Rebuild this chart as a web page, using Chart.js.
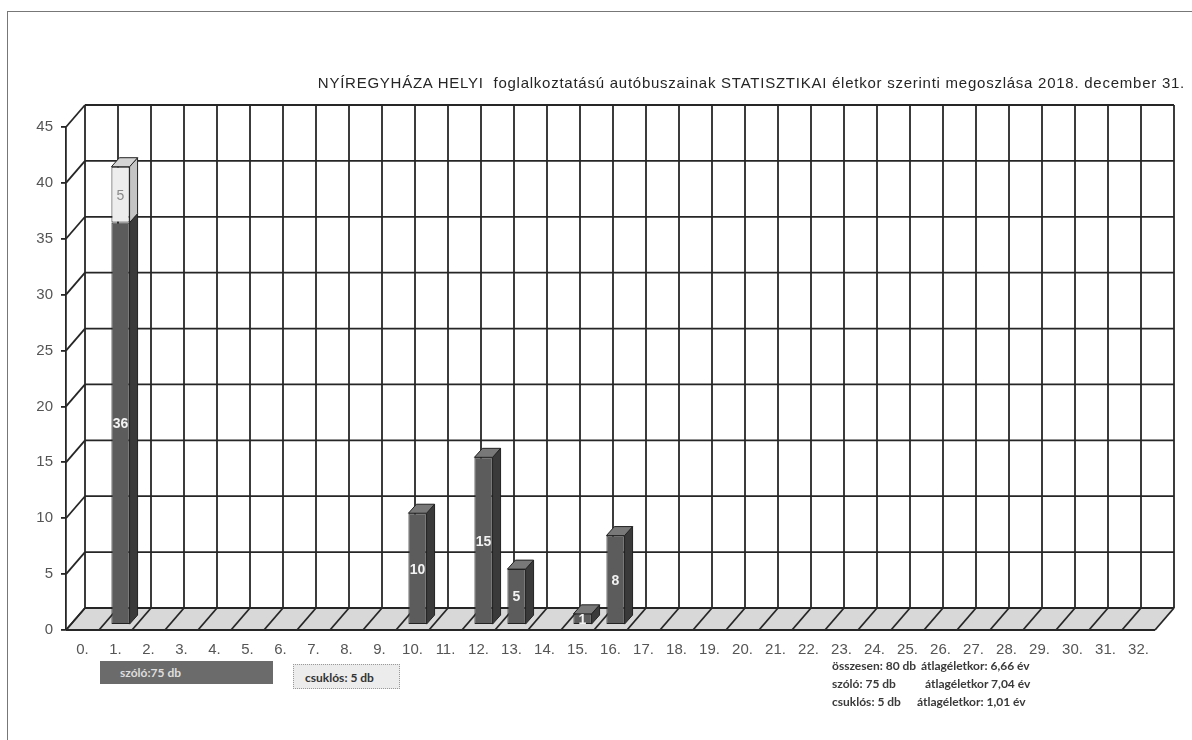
<!DOCTYPE html>
<html>
<head>
<meta charset="utf-8">
<script src="https://cdn.jsdelivr.net/npm/chart.js@4.4.1/dist/chart.umd.min.js"></script>
<style>
  body { margin: 0; background: #fff; width: 1192px; height: 740px; overflow: hidden; position: relative; }
  #frame { position: absolute; left: 7px; top: 11px; width: 1220px; height: 760px; border: 1px solid #777; }
  #chart { position: absolute; left: 0; top: 0; }
  #title { position: absolute; right: 7px; top: 74px; font: 15px 'Liberation Sans', Arial, sans-serif; letter-spacing: 0.75px; color: #262626; white-space: nowrap; }
  .legbox { position: absolute; font: bold 12px Lato, 'Open Sans', sans-serif; white-space: nowrap; box-sizing: border-box; }
  #leg0 { left: 100px; top: 661px; width: 173px; height: 23px; line-height: 23px; background: #6b6b6b; color: #dedede; padding-left: 20px; }
  #leg1 { left: 293px; top: 664px; width: 107px; height: 25px; line-height: 25px; background: #ececec; color: #333; border: 1px dotted #999; padding-left: 11px; }
  .stat { position: absolute; font: bold 12px Lato, 'Open Sans', sans-serif; color: #3a3a3a; white-space: nowrap; }
</style>
</head>
<body>
<div id="frame"></div>
<canvas id="chart" width="1192" height="740"></canvas>
<div id="title">NYÍREGYHÁZA HELYI&nbsp; foglalkoztatású autóbuszainak STATISZTIKAI életkor szerinti megoszlása 2018. december 31.</div>
<div id="leg0" class="legbox"></div>
<div id="leg1" class="legbox"></div>
<div class="stat" style="left:832px; top:658px">összesen: 80 db</div>
<div class="stat" style="left:921px; top:658px">átlagéletkor: 6,66 év</div>
<div class="stat" style="left:832px; top:676px">szóló: 75 db</div>
<div class="stat" style="left:925px; top:676px">átlagéletkor 7,04 év</div>
<div class="stat" style="left:832px; top:694px">csuklós: 5 db</div>
<div class="stat" style="left:917px; top:694px">átlagéletkor: 1,01 év</div>
<script>
// age categories (years)
const categories = ['0.', '1.', '2.', '3.', '4.', '5.', '6.', '7.', '8.', '9.', '10.',
    '11.', '12.', '13.', '14.', '15.', '16.', '17.', '18.', '19.', '20.', '21.',
    '22.', '23.', '24.', '25.', '26.', '27.', '28.', '29.', '30.', '31.', '32.'];

// number of buses per age
const soloValues = [0, 36, 0, 0, 0, 0, 0, 0, 0, 0, 10, 0, 15, 5, 0, 1, 8, 0,
    0, 0, 0, 0, 0, 0, 0, 0, 0, 0, 0, 0, 0, 0, 0];
const csuklosValues = [0, 5, 0, 0, 0, 0, 0, 0, 0, 0, 0, 0, 0, 0, 0, 0, 0, 0,
    0, 0, 0, 0, 0, 0, 0, 0, 0, 0, 0, 0, 0, 0, 0];
const seriesNames = ['szóló', 'csuklós'];

const yMax = 45;
const yStep = 5;

// 3D look
const gridColor = '#262626';
const WALL_DX = 19, WALL_DY = -22;   // back wall offset
const BAR_SX = 5, BAR_SY = -5;       // bars sit a bit behind the front plane
const BAR_DX = 8, BAR_DY = -9;       // bar depth
const faceColors = [
    { front: '#5c5c5c', side: '#3a3a3a', top: '#787878', label: '#f2f2f2', bold: true },
    { front: '#ededed', side: '#c4c4c4', top: '#d4d4d4', label: '#8a8a8a', bold: false }
];

const sum = arr => arr.reduce((s, v) => s + v, 0);
document.getElementById('leg0').textContent = seriesNames[0] + ':' + sum(soloValues) + ' db';
document.getElementById('leg1').textContent = seriesNames[1] + ': ' + sum(csuklosValues) + ' db';

function line(ctx, x1, y1, x2, y2) {
    ctx.beginPath();
    ctx.moveTo(x1, y1);
    ctx.lineTo(x2, y2);
    ctx.stroke();
}

const walls3d = {
    id: 'walls3d',
    beforeDatasetsDraw(chart) {
        const { ctx, chartArea: a, scales: { y } } = chart;
        const catW = (a.right - a.left) / categories.length;
        ctx.save();
        // floor
        ctx.fillStyle = '#d8d8d8';
        ctx.beginPath();
        ctx.moveTo(a.left, a.bottom);
        ctx.lineTo(a.right, a.bottom);
        ctx.lineTo(a.right + WALL_DX, a.bottom + WALL_DY);
        ctx.lineTo(a.left + WALL_DX, a.bottom + WALL_DY);
        ctx.closePath();
        ctx.fill();
        ctx.strokeStyle = gridColor;
        ctx.lineWidth = 1.8;
        for (let i = 0; i <= categories.length; i++) {
            const xb = a.left + i * catW;
            line(ctx, xb, a.bottom, xb + WALL_DX, a.bottom + WALL_DY);
            line(ctx, xb + WALL_DX, y.getPixelForValue(yMax) + WALL_DY, xb + WALL_DX, a.bottom + WALL_DY);
        }
        for (let v = 0; v <= yMax; v += yStep) {
            const yy = y.getPixelForValue(v);
            line(ctx, a.left, yy, a.left + WALL_DX, yy + WALL_DY);
            line(ctx, a.left + WALL_DX, yy + WALL_DY, a.right + WALL_DX, yy + WALL_DY);
        }
        line(ctx, a.left, a.bottom, a.right, a.bottom);
        ctx.restore();
        ctx.save();
        ctx.translate(BAR_SX, BAR_SY);
    },
    afterDatasetsDraw(chart) {
        const { ctx } = chart;
        const metas = chart.data.datasets.map((d, i) => chart.getDatasetMeta(i));
        categories.forEach((c, idx) => {
            let topDs = -1;
            chart.data.datasets.forEach((d, di) => { if (d.data[idx] > 0) topDs = di; });
            chart.data.datasets.forEach((d, di) => {
                const v = d.data[idx];
                if (!v) return;
                const el = metas[di].data[idx];
                const col = faceColors[di];
                const l = el.x - el.width / 2, r = el.x + el.width / 2;
                ctx.strokeStyle = '#222';
                ctx.lineWidth = 1;
                // side face
                ctx.fillStyle = col.side;
                ctx.beginPath();
                ctx.moveTo(r, el.y);
                ctx.lineTo(r + BAR_DX, el.y + BAR_DY);
                ctx.lineTo(r + BAR_DX, el.base + BAR_DY);
                ctx.lineTo(r, el.base);
                ctx.closePath();
                ctx.fill();
                ctx.stroke();
                if (di === topDs) {
                    ctx.fillStyle = col.top;
                    ctx.beginPath();
                    ctx.moveTo(l, el.y);
                    ctx.lineTo(r, el.y);
                    ctx.lineTo(r + BAR_DX, el.y + BAR_DY);
                    ctx.lineTo(l + BAR_DX, el.y + BAR_DY);
                    ctx.closePath();
                    ctx.fill();
                    ctx.stroke();
                }
                // value label
                ctx.fillStyle = col.label;
                ctx.font = (col.bold ? 'bold ' : '') + '14px "Liberation Sans", Arial, sans-serif';
                ctx.textAlign = 'center';
                ctx.textBaseline = 'middle';
                ctx.fillText(String(v), el.x, (el.y + el.base) / 2 + 1);
            });
        });
        ctx.restore();
    }
};

const ctx = document.getElementById('chart').getContext('2d');
const chart = new Chart(ctx, {
    type: 'bar',
    data: {
        labels: categories,
        datasets: [
            {
                label: seriesNames[0],
                data: soloValues,
                backgroundColor: faceColors[0].front,
                borderColor: '#222',
                borderWidth: 1,
                borderSkipped: false
            },
            {
                label: seriesNames[1],
                data: csuklosValues,
                backgroundColor: faceColors[1].front,
                borderColor: '#222',
                borderWidth: 1,
                borderSkipped: false
            }
        ]
    },
    plugins: [walls3d],
    options: {
        responsive: false,
        animation: false,
        devicePixelRatio: 1,
        layout: {
            padding: { left: 0, right: 37, top: 127, bottom: 80 }
        },
        datasets: {
            bar: { barPercentage: 0.55, categoryPercentage: 1 }
        },
        scales: {
            x: {
                stacked: true,
                afterFit: scale => { scale.height = 30; },
                grid: { display: false },
                border: { display: false },
                ticks: {
                    color: '#555',
                    padding: 3,
                    maxRotation: 0,
                    autoSkip: false,
                    font: { family: "'Liberation Sans', Arial, sans-serif", size: 15 }
                }
            },
            y: {
                stacked: true,
                min: 0,
                max: yMax,
                afterFit: scale => { scale.width = 66; },
                grid: { drawOnChartArea: false, drawTicks: true, tickLength: 5, color: gridColor, lineWidth: 1.8 },
                border: { display: true, color: gridColor, width: 1.8 },
                ticks: {
                    stepSize: yStep,
                    color: '#555',
                    padding: 8,
                    font: { family: "'Liberation Sans', Arial, sans-serif", size: 15 }
                }
            }
        },
        plugins: {
            legend: { display: false },
            tooltip: { enabled: false }
        }
    }
});
</script>
</body>
</html>
